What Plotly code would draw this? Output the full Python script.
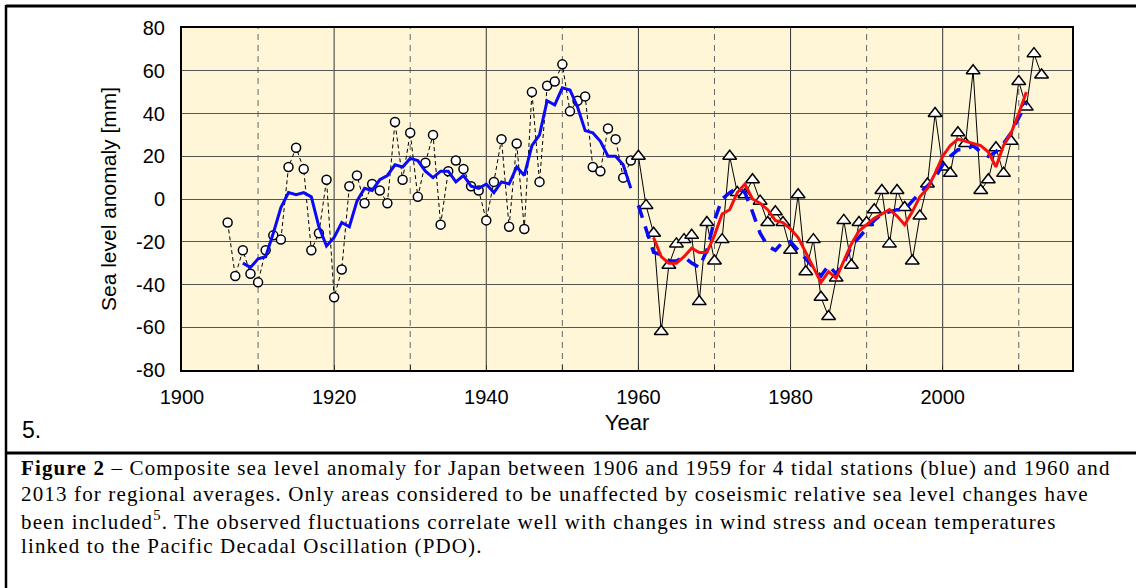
import plotly.graph_objects as go

# ---------------- data ----------------
years_early = list(range(1906, 1960))
circles = [-11, -36, -24, -35, -39, -24, -17, -19, 15, 24, 14, -24, -16, 9, -46, -33, 6, 11, -2, 7,
           4, -2, 36, 9, 31, 1, 17, 30, -12, 13, 18, 14, 6, 4, -10, 8, 28, -13, 26, -14,
           50, 8, 53, 55, 63, 41, 46, 48, 15, 13, 33, 28, 10, 18]

years_blue = list(range(1908, 1960))
blue_solid = [-30, -32, -28, -27, -16, -4, 3, 2, 3, 1, -13, -22, -18, -11, -13, -1, 5, 4, 9, 11,
              16, 15, 19, 18, 13, 10, 13, 13, 8, 11, 6, 5, 7, 3, 8, 7, 15, 11, 25, 30,
              46, 44, 52, 51, 43, 32, 31, 27, 20, 20, 16, 5]

years_late = list(range(1960, 2014))
triangles = [20, -3, -16, -62, -31, -21, -19, -17, -48, -11, -29, -19, 20, 3, 2, 9, -1, -11, -6, -11,
             -24, 2, -34, -19, -46, -55, -37, -10, -31, -11, -11, -5, 4, -21, 4, -4, -29, -8, 7, 40,
             15, 12, 31, 26, 60, 4, 9, 24, 12, 27, 55, 43, 68, 58]

years_dash = list(range(1960, 2012))
blue_dash = [-3, -14, -25, -26, -29, -29, -27, -30, -32, -24, -10, 0, 3, 5, 3, -6, -16, -22, -24, -20,
             -20, -24, -28, -32, -36, -31, -35, -30, -22, -18, -14, -10, -7, -6, -5, -5, -1, 3, 6, 10,
             16, 20, 23, 23, 25, 22, 20, 22, 26, 31, 38, 45]

years_red = list(range(1962, 2012))
red_line = [-18, -27, -30, -30, -27, -23, -25, -25, -17, -7, -5, 3, 7, 0, -2, -5, -10, -11, -14, -18,
            -25, -32, -39, -34, -37, -29, -21, -15, -12, -9, -7, -5, -8, -12, -6, 1, 5, 12, 20, 25,
            28, 27, 26, 25, 22, 15, 25, 31, 40, 50]

x_tick_vals = [1900, 1920, 1940, 1960, 1980, 2000]
x_tick_text = ["1900", "1920", "1940", "1960", "1980", "2000"]
y_tick_vals = [-80, -60, -40, -20, 0, 20, 40, 60, 80]
y_tick_text = ["-80", "-60", "-40", "-20", "0", "20", "40", "60", "80"]
dashed_decades = [1910, 1930, 1950, 1970, 1990, 2010]
solid_decades = [1920, 1940, 1960, 1980, 2000]

caption_lines = [
    "<b>Figure 2</b> – Composite sea level anomaly for Japan between 1906 and 1959 for 4 tidal stations (blue) and 1960 and",
    "2013 for regional averages. Only areas considered to be unaffected by coseismic relative sea level changes have",
    "been included<sup>5</sup>. The observed fluctuations correlate well with changes in wind stress and ocean temperatures",
    "linked to the Pacific Decadal Oscillation (PDO).",
]

# ---------------- geometry ----------------
W, H = 1136, 588
ML, MR, MT, MB = 182, 64, 28, 218
PW, PH = W - ML - MR, H - MT - MB


def px(x):
    return (x - ML) / PW


def py(y):
    return (H - MB - y) / PH


fig = go.Figure()

fig.add_trace(go.Scatter(x=years_early, y=circles, mode="lines+markers",
                         line=dict(color="black", width=1, dash="4px,3px"),
                         marker=dict(symbol="circle", size=9, color="white",
                                     line=dict(color="black", width=1.5)),
                         showlegend=False))
fig.add_trace(go.Scatter(x=years_late, y=triangles, mode="lines+markers",
                         line=dict(color="black", width=1),
                         marker=dict(symbol="triangle-up", size=12, color="white",
                                     line=dict(color="black", width=1.5)),
                         showlegend=False))
fig.add_trace(go.Scatter(x=years_blue, y=blue_solid, mode="lines",
                         line=dict(color="#0A0AF5", width=3), showlegend=False))
fig.add_trace(go.Scatter(x=years_dash, y=blue_dash, mode="lines",
                         line=dict(color="#0A0AF5", width=3.5, dash="13px,9px"), showlegend=False))
fig.add_trace(go.Scatter(x=years_red, y=red_line, mode="lines",
                         line=dict(color="#F51010", width=3), showlegend=False))

shapes = []
for d in dashed_decades:
    shapes.append(dict(type="line", xref="x", yref="y", x0=d, x1=d, y0=-80, y1=80,
                       line=dict(color="#666666", width=1, dash="6px,5px"), layer="below"))
for d in solid_decades:
    shapes.append(dict(type="line", xref="x", yref="y", x0=d, x1=d, y0=-80, y1=80,
                       line=dict(color="#333333", width=1), layer="below"))
# outer frame and caption separator
shapes.append(dict(type="line", xref="paper", yref="paper", x0=px(6), x1=px(1140), y0=py(6), y1=py(6),
                   line=dict(color="black", width=3)))
shapes.append(dict(type="line", xref="paper", yref="paper", x0=px(6), x1=px(6), y0=py(5), y1=py(590),
                   line=dict(color="black", width=2.5)))
shapes.append(dict(type="line", xref="paper", yref="paper", x0=px(6), x1=px(1140), y0=py(453), y1=py(453),
                   line=dict(color="black", width=3)))

annotations = [
    dict(text="5.", xref="paper", yref="paper", x=px(20), y=py(430), xanchor="left", yanchor="middle",
         showarrow=False, font=dict(family="Liberation Sans, Arial", size=23, color="black")),
]
line_y = [468, 494, 520, 546]
for t, yy in zip(caption_lines, line_y):
    annotations.append(dict(text='<span style="letter-spacing:1.15px">' + t + '</span>',
                            xref="paper", yref="paper", x=px(19), y=py(yy),
                            xanchor="left", yanchor="middle", showarrow=False, align="left",
                            font=dict(family="Liberation Serif, Times New Roman", size=21, color="black")))

fig.update_layout(
    width=W, height=H, autosize=False,
    margin=dict(l=ML, r=MR, t=MT, b=MB, pad=0),
    paper_bgcolor="white", plot_bgcolor="#FEF6D6",
    font=dict(family="Liberation Sans, Arial", color="black"),
    shapes=shapes, annotations=annotations,
    xaxis=dict(range=[1900, 2017], tickvals=x_tick_vals, ticktext=x_tick_text,
               showgrid=False, zeroline=False, ticks="inside", ticklen=5, tickcolor="#333",
               minor=dict(ticks="inside", ticklen=5, tickcolor="#333", dtick=10, tick0=1900,
                          showgrid=False),
               ticklabelstandoff=8,
               showline=True, linecolor="black", linewidth=2, mirror=True,
               tickfont=dict(size=20),
               title=dict(text="Year", font=dict(size=22), standoff=8)),
    yaxis=dict(range=[-80, 80], tickvals=y_tick_vals, ticktext=y_tick_text,
               showgrid=True, gridcolor="#555555", gridwidth=1, zeroline=False,
               ticks="", ticklabelstandoff=11,
               showline=True, linecolor="black", linewidth=2, mirror=True,
               tickfont=dict(size=20),
               title=dict(text="Sea level anomaly [mm]", font=dict(size=21), standoff=14)),
)

fig.write_html("out.html")
